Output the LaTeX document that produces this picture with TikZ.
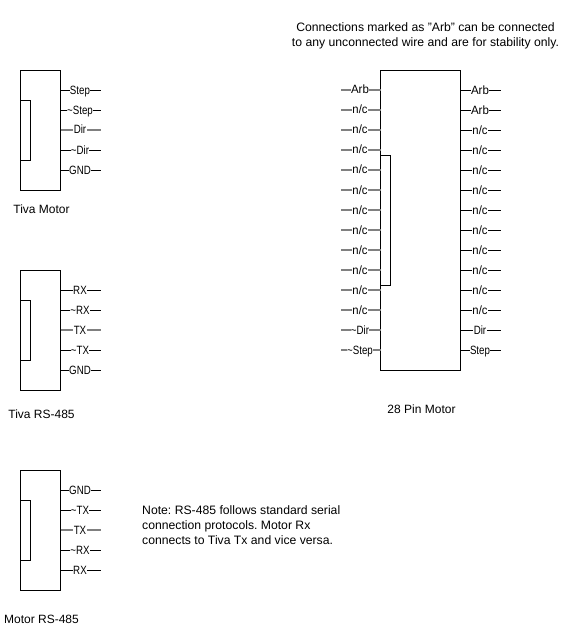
\documentclass[tikz,border=0pt]{standalone}
\usepackage{graphicx}
\usepackage{fontspec}
\setmainfont{Liberation Sans}
\frenchspacing
\tikzset{
  x=1bp,y=-1bp,
  every node/.style={font=\fontsize{12.05}{15.06}\selectfont},
  chip/.style={draw=black,line width=1bp,fill=white,inner sep=0pt,outer sep=0pt,rectangle,anchor=north west},
  notchbox/.style={chip,minimum width=10bp},
  pinthin/.style={draw=black,line width=1bp},
  pinthick/.style={draw=black!50,line width=2bp},
  pinlabel/.style={fill=white,inner xsep=0.3bp,inner ysep=0pt,anchor=base,text height=8.5bp,text depth=0pt},
  caption/.style={inner sep=0pt,anchor=base},
  para/.style={inner sep=0pt,font=\fontsize{12.25}{15.06}\selectfont},
}
\newcommand{\nar}[1]{\scalebox{0.81}[1]{#1}}
\newcommand{\nc}{\scalebox{0.94}[1]{n/c}}
\newcommand{\arb}{\scalebox{0.96}[1]{Arb}}
% #1 box name, #2 side anchor, #3 free-end x, #4 label x, #5 list y/label/style
\newcommand{\pinrow}[5]{%
  \foreach \yy/\lab/\sty [count=\k] in {#5}{%
    \coordinate (#1-#2-\k) at (#3,\yy);
    \draw[\sty] (#1.#2 |- #1-#2-\k) -- (#1-#2-\k);
    \node[pinlabel] (#1-#2-label-\k) at (#4,\yy+4) {\lab};
  }%
}
\begin{document}
\begin{tikzpicture}
\useasboundingbox (0,0) rectangle (561,631);
% Tiva Motor
\node[chip,minimum width=40bp,minimum height=120bp] (tm) at (20.5,70.5) {};
\node[notchbox,minimum height=60bp] (tmn) at (20.5,100.5) {};
\pinrow{tm}{east}{100.5}{80}{90.5/\nar{Step}/pinthin,110.5/\nar{\textasciitilde Step}/pinthin,130/\nar{Dir}/pinthick,150.5/\nar{\textasciitilde Dir}/pinthin,170.5/\nar{GND}/pinthin}
\node[caption] (tmc) at (41.5,213) {Tiva Motor};
% Tiva RS-485
\node[chip,minimum width=40bp,minimum height=120bp] (tr) at (20.5,270.5) {};
\node[notchbox,minimum height=60bp] (trn) at (20.5,300.5) {};
\pinrow{tr}{east}{100.5}{80}{290.5/\nar{RX}/pinthin,310.5/\nar{\textasciitilde RX}/pinthin,330/\nar{TX}/pinthick,350.5/\nar{\textasciitilde TX}/pinthin,370.5/\nar{GND}/pinthin}
\node[caption] (trc) at (41.5,418) {Tiva RS-485};
% Motor RS-485
\node[chip,minimum width=40bp,minimum height=120bp] (mr) at (20.5,470.5) {};
\node[notchbox,minimum height=60bp] (mrn) at (20.5,500.5) {};
\pinrow{mr}{east}{100.5}{80}{490.5/\nar{GND}/pinthin,510.5/\nar{\textasciitilde TX}/pinthin,530/\nar{TX}/pinthick,550.5/\nar{\textasciitilde RX}/pinthin,570.5/\nar{RX}/pinthin}
\node[caption] (mrc) at (41.5,623) {Motor RS-485};
% 28 pin
\node[chip,minimum width=80bp,minimum height=300bp] (big) at (380.5,70.5) {};
\node[notchbox,minimum height=130bp] (bign) at (380.5,155.5) {};
\pinrow{big}{west}{341}{360}{90/\arb/pinthick,110/\nc/pinthick,130/\nc/pinthick,150/\nc/pinthick,170/\nc/pinthick,190/\nc/pinthick,210/\nc/pinthick,230/\nc/pinthick,250/\nc/pinthick,270/\nc/pinthick,290/\nc/pinthick,310/\nc/pinthick,330/\nar{\textasciitilde Dir}/pinthick,350/\nar{\textasciitilde Step}/pinthick}
\pinrow{big}{east}{500.5}{480}{90.5/\arb/pinthin,110.5/\arb/pinthin,130.5/\nc/pinthin,150.5/\nc/pinthin,170.5/\nc/pinthin,190.5/\nc/pinthin,210.5/\nc/pinthin,230.5/\nc/pinthin,250.5/\nc/pinthin,270.5/\nc/pinthin,290.5/\nc/pinthin,310.5/\nc/pinthin,330.5/\nar{Dir}/pinthin,350.5/\nar{Step}/pinthin}
\node[caption] (bigc) at (421.5,413) {28 Pin Motor};
\node[para,align=center] (arbnote) at (425.5,35.5) {Connections marked as "Arb" can be connected\\to any unconnected wire and are for stability only.};
\node[para,anchor=north west,align=left] (rsnote) at (142,505) {Note: RS-485 follows standard serial\\connection protocols. Motor Rx\\connects to Tiva Tx and vice versa.};
\end{tikzpicture}
\end{document}
